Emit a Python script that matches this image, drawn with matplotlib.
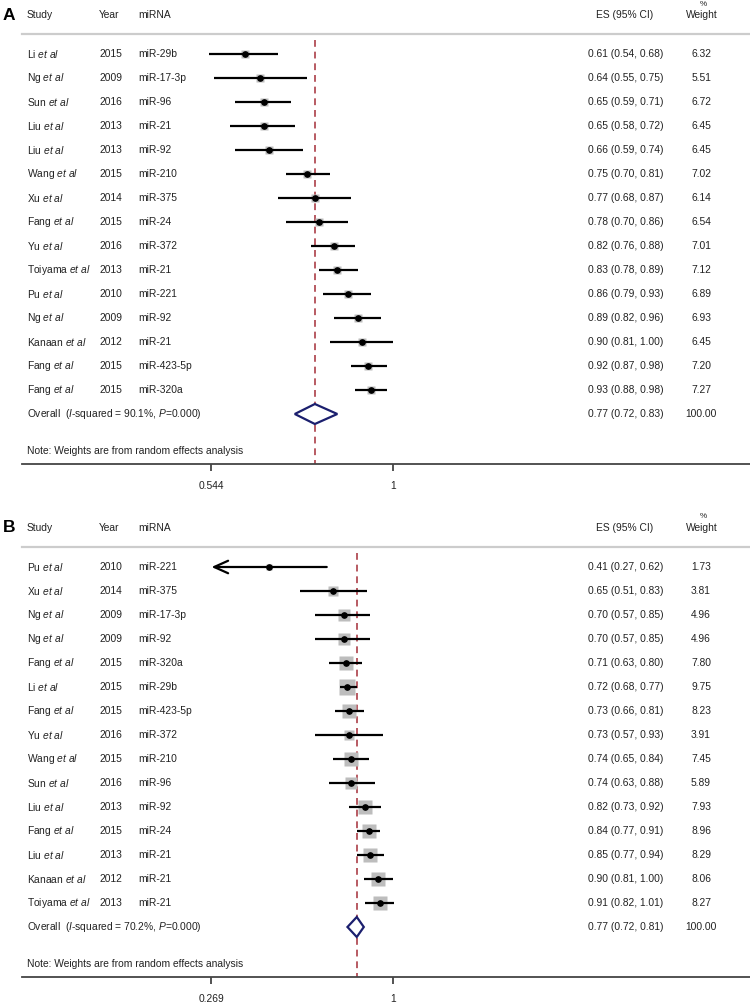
import numpy as np
import matplotlib
matplotlib.use("Agg")
from matplotlib import pyplot as plt
from matplotlib.transforms import blended_transform_factory

plt.rcParams['font.family'] = ['Liberation Sans', 'DejaVu Sans']
plt.rcParams['mathtext.fontset'] = 'custom'
plt.rcParams['mathtext.rm'] = 'Liberation Sans'
plt.rcParams['mathtext.it'] = 'Liberation Sans:italic'

# ---- panel A data ----
studies_a = ["Li", "Ng", "Sun", "Liu", "Liu", "Wang", "Xu", "Fang", "Yu", "Toiyama",
             "Pu", "Ng", "Kanaan", "Fang", "Fang"]
years_a = [2015, 2009, 2016, 2013, 2013, 2015, 2014, 2015, 2016, 2013, 2010, 2009, 2012, 2015, 2015]
mirna_a = ["miR-29b", "miR-17-3p", "miR-96", "miR-21", "miR-92", "miR-210", "miR-375", "miR-24",
           "miR-372", "miR-21", "miR-221", "miR-92", "miR-21", "miR-423-5p", "miR-320a"]
es_a = [0.61, 0.64, 0.65, 0.65, 0.66, 0.75, 0.77, 0.78, 0.82, 0.83, 0.86, 0.89, 0.90, 0.92, 0.93]
lo_a = [0.54, 0.55, 0.59, 0.58, 0.59, 0.70, 0.68, 0.70, 0.76, 0.78, 0.79, 0.82, 0.81, 0.87, 0.88]
hi_a = [0.68, 0.75, 0.71, 0.72, 0.74, 0.81, 0.87, 0.86, 0.88, 0.89, 0.93, 0.96, 1.00, 0.98, 0.98]
wt_a = [6.32, 5.51, 6.72, 6.45, 6.45, 7.02, 6.14, 6.54, 7.01, 7.12, 6.89, 6.93, 6.45, 7.20, 7.27]
arrows_a = []   # rows whose CI runs off the scale
overall_a = (0.77, 0.72, 0.83)
isq_a = "90.1%"
ticks_a = [0.544, 1]
ticklabels_a = ["0.544", "1"]

# ---- panel B data ----
studies_b = ["Pu", "Xu", "Ng", "Ng", "Fang", "Li", "Fang", "Yu", "Wang", "Sun", "Liu", "Fang",
             "Liu", "Kanaan", "Toiyama"]
years_b = [2010, 2014, 2009, 2009, 2015, 2015, 2015, 2016, 2015, 2016, 2013, 2015, 2013, 2012, 2013]
mirna_b = ["miR-221", "miR-375", "miR-17-3p", "miR-92", "miR-320a", "miR-29b", "miR-423-5p",
           "miR-372", "miR-210", "miR-96", "miR-92", "miR-24", "miR-21", "miR-21", "miR-21"]
es_b = [0.41, 0.65, 0.70, 0.70, 0.71, 0.72, 0.73, 0.73, 0.74, 0.74, 0.82, 0.84, 0.85, 0.90, 0.91]
lo_b = [0.27, 0.51, 0.57, 0.57, 0.63, 0.68, 0.66, 0.57, 0.65, 0.63, 0.73, 0.77, 0.77, 0.81, 0.82]
hi_b = [0.62, 0.83, 0.85, 0.85, 0.80, 0.77, 0.81, 0.93, 0.84, 0.88, 0.92, 0.91, 0.94, 1.00, 1.01]
wt_b = [1.73, 3.81, 4.96, 4.96, 7.80, 9.75, 8.23, 3.91, 7.45, 5.89, 7.93, 8.96, 8.29, 8.06, 8.27]
arrows_b = [0]
overall_b = (0.77, 0.72, 0.81)
isq_b = "70.2%"
ticks_b = [0.269, 1]
ticklabels_b = ["0.269", "1"]

W, H = 750, 1002
fig = plt.figure(figsize=(W / 100, H / 100), dpi=100)

FS = 7.4
TXT = '#222222'
AX_L = 22            # px where the axis line starts
ROW0, STEP = 54, 24  # px of first row, row spacing


def px2ax(px):
    return (px - AX_L) / (W - AX_L)


def forest(top, letter, studies, years, mirna, es, lo, hi, wt, arrows, overall, isq,
           ticks, ticklabels, box_k):
    axis_px = top + 464
    ax = fig.add_axes([AX_L / W, 1 - axis_px / H, (W - AX_L) / W, 464 / H])
    ax.set_xscale('log')
    # the two ticks sit at px 211 and 393
    l0, l1 = np.log(ticks[0]), np.log(ticks[1])
    per_px = (l1 - l0) / (393 - 211)
    ax.set_xlim(np.exp(l0 - (211 - AX_L) * per_px), np.exp(l1 + (W - 393) * per_px))
    ax.set_ylim((464 - ROW0) / STEP, -ROW0 / STEP)

    for s in ['top', 'left', 'right']:
        ax.spines[s].set_visible(False)
    ax.spines['bottom'].set_color('#444444')
    ax.spines['bottom'].set_linewidth(1.3)
    ax.set_yticks([])
    ax.set_xticks(ticks)
    ax.set_xticklabels(ticklabels)
    ax.xaxis.set_minor_locator(matplotlib.ticker.NullLocator())
    ax.tick_params(axis='x', length=5, width=1.3, color='#444444', labelsize=FS,
                   labelcolor=TXT, pad=7)

    tr = blended_transform_factory(ax.transAxes, ax.transData)
    n = len(studies)
    y_head = (15 - ROW0) / STEP
    y_pct = (4 - ROW0) / STEP
    y_line = (34 - ROW0) / STEP
    y_over = n
    y_note = (451 - ROW0) / STEP

    # header
    ax.text(px2ax(27), y_head, "Study", transform=tr, fontsize=FS, va='center', color=TXT)
    ax.text(px2ax(99), y_head, "Year", transform=tr, fontsize=FS, va='center', color=TXT)
    ax.text(px2ax(138), y_head, "miRNA", transform=tr, fontsize=FS, va='center', color=TXT)
    ax.text(px2ax(625), y_head, "ES (95% CI)", transform=tr, fontsize=FS, va='center',
            ha='center', color=TXT)
    ax.text(px2ax(702), y_head, "Weight", transform=tr, fontsize=FS, va='center',
            ha='center', color=TXT)
    ax.text(px2ax(703), y_pct, "%", transform=tr, fontsize=FS - 1.5, va='center',
            ha='center', color=TXT)
    ax.plot([0, 1], [y_line, y_line], transform=tr, color='#cccccc', lw=1.6,
            clip_on=False)
    fig.text(9 / W, 1 - (top + 15) / H, letter, fontsize=12.5, fontweight='bold',
             ha='center', va='center')

    # overall-estimate dashed line
    ax.plot([overall[0], overall[0]], [(40 - ROW0) / STEP, (464 - ROW0) / STEP],
            color='#b85a62', lw=1.4, ls=(0, (3.5, 2.5)), zorder=1, clip_on=False)

    # study rows
    for i in range(n):
        ax.text(px2ax(27), i, studies[i] + r" $\mathit{et\ al}$", transform=tr,
                fontsize=FS, va='center', color=TXT)
        ax.text(px2ax(99), i, str(years[i]), transform=tr, fontsize=FS, va='center',
                color=TXT)
        ax.text(px2ax(138), i, mirna[i], transform=tr, fontsize=FS, va='center', color=TXT)
        ax.text(px2ax(588), i, "%.2f (%.2f, %.2f)" % (es[i], lo[i], hi[i]), transform=tr,
                fontsize=FS, va='center', color=TXT)
        ax.text(px2ax(701), i, "%.2f" % wt[i], transform=tr, fontsize=FS, va='center',
                ha='center', color=TXT)
        ax.plot(es[i], i, marker='s', ms=box_k * np.sqrt(wt[i]) * 0.72,
                color='#bdbdbd', mec='none', zorder=2)
        if i in arrows:
            ax.annotate('', xy=(lo[i], i), xytext=(hi[i], i),
                        arrowprops=dict(arrowstyle='->,head_length=1.0,head_width=0.45',
                                        lw=1.6, color='black', shrinkA=0, shrinkB=0),
                        zorder=3)
        else:
            ax.plot([lo[i], hi[i]], [i, i], color='black', lw=1.6, zorder=3,
                    solid_capstyle='butt')
        ax.plot(es[i], i, marker='o', ms=3.8, color='black', zorder=4)

    # overall row
    est, olo, ohi = overall
    ax.text(px2ax(27), y_over,
            r"Overall  ($\mathit{I}$-squared = " + isq + r", $\mathit{P}$=0.000)",
            transform=tr, fontsize=FS, va='center', color=TXT)
    ax.text(px2ax(588), y_over, "%.2f (%.2f, %.2f)" % (est, olo, ohi), transform=tr,
            fontsize=FS, va='center', color=TXT)
    ax.text(px2ax(701), y_over, "100.00", transform=tr, fontsize=FS, va='center',
            ha='center', color=TXT)
    dh = 10 / STEP
    ax.fill([olo, est, ohi, est, olo], [y_over, y_over - dh, y_over, y_over + dh, y_over],
            facecolor='white', edgecolor='#1b1f6e', lw=1.6, zorder=3)
    ax.text(px2ax(27), y_note, "Note: Weights are from random effects analysis",
            transform=tr, fontsize=FS, va='center', color=TXT)
    return ax


forest(0, "A", studies_a, years_a, mirna_a, es_a, lo_a, hi_a, wt_a, arrows_a, overall_a,
       isq_a, ticks_a, ticklabels_a, box_k=3.0)
forest(513, "B", studies_b, years_b, mirna_b, es_b, lo_b, hi_b, wt_b, arrows_b, overall_b,
       isq_b, ticks_b, ticklabels_b, box_k=5.0)

fig.savefig("out.png", dpi=100)
